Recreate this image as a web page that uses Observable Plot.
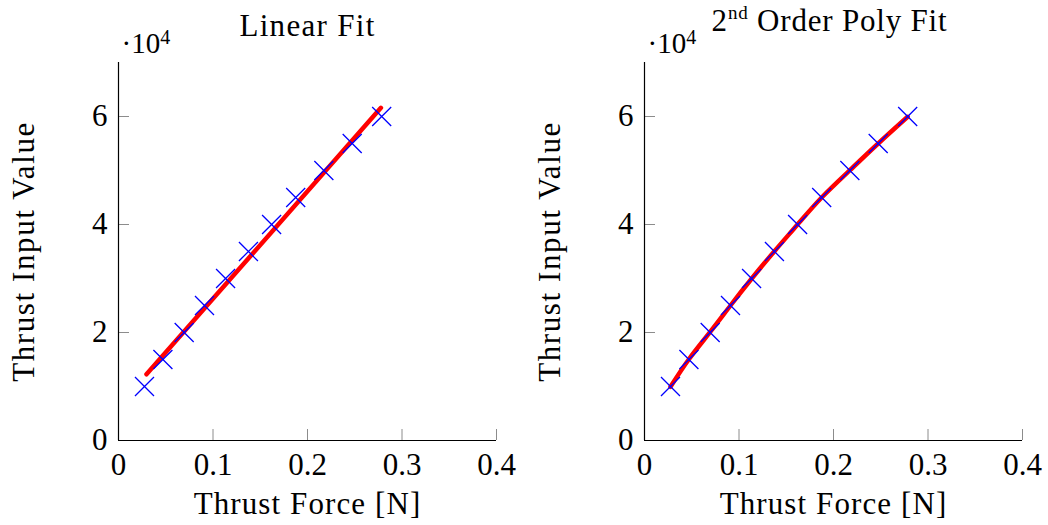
<!DOCTYPE html>
<html><head><meta charset="utf-8">
<script src="https://cdn.jsdelivr.net/npm/d3@7"></script>
<script src="https://cdn.jsdelivr.net/npm/@observablehq/plot@0.6"></script>
<style>
body{margin:0;background:#fff;}
#wrap{display:flex;width:1048px;height:525px;overflow:hidden;}
</style></head><body><div id="wrap"></div>
<script>
// Measured data (same samples in both panels)
const thrustForce = [0.0275, 0.047, 0.0695, 0.091, 0.1133, 0.1375, 0.162, 0.1875, 0.2173, 0.2473, 0.2785];
const thrustInput = [10000, 15000, 20000, 25000, 30000, 35000, 40000, 45000, 50000, 55000, 60000];
// Linear fit line
const linearFitForce = [0.0296, 0.2777];
const linearFitInput = [12270, 61600];
// 2nd order polynomial fit curve
const polyFitForce = [0.0275, 0.047, 0.0695, 0.091, 0.1133, 0.1375, 0.162, 0.1875, 0.2173, 0.2473, 0.2785];
const polyFitInput = [9950, 15050, 20100, 25000, 29950, 35050, 40000, 45000, 50050, 55000, 59950];
// Ticks
const xTicks = [0, 0.1, 0.2, 0.3, 0.4];
const xTickLabels = ["0", "0.1", "0.2", "0.3", "0.4"];
const yTicks = [0, 20000, 40000, 60000];
const yTickLabels = ["0", "2", "4", "6"];
// Texts
const panelTitles = ["Linear Fit", "2nd Order Poly Fit"];
const xLabel = "Thrust Force [N]";
const yLabel = "Thrust Input Value";
const yScaleNote = "·10^4";

const points = thrustForce.map((x, i) => ({x, y: thrustInput[i]}));

function panel(title, fitX, fitY, curve, marginLeft, marginRight, titleDx, titleDy) {
  const fit = fitX.map((x, i) => ({x, y: fitY[i]}));
  return Plot.plot({
    width: 524, height: 525,
    marginLeft, marginRight, marginTop: 62, marginBottom: 85,
    style: {fontFamily: "'Liberation Serif', serif", fontSize: "31px", background: "#fff", color: "#000", overflow: "visible"},
    x: {domain: [0, 0.4]},
    y: {domain: [0, 70000]},
    marks: [
      Plot.axisX({ticks: xTicks, tickSize: -11, fill: "none", stroke: "#8c8c8c", label: null}),
      Plot.axisY({ticks: yTicks, tickSize: -11, fill: "none", stroke: "#8c8c8c", label: null}),
      Plot.axisX({ticks: xTicks, tickSize: 0, tickPadding: 12, tickFormat: d => xTickLabels[xTicks.indexOf(d)], label: null}),
      Plot.axisY({ticks: yTicks, tickSize: 0, tickPadding: 11, tickFormat: d => yTickLabels[yTicks.indexOf(d)], label: null}),
      Plot.ruleY([0], {stroke: "#000", strokeWidth: 1.2}),
      Plot.ruleX([0], {stroke: "#000", strokeWidth: 1.2}),
      Plot.line(fit, {x: "x", y: "y", stroke: "#ff0000", strokeWidth: 4.5, curve}),
      Plot.dot(points, {x: "x", y: "y", symbol: "times", r: 8.7, stroke: "#0000ff", strokeWidth: 1.3}),
      Plot.text([title], {frameAnchor: "top", dx: titleDx, dy: titleDy, lineAnchor: "bottom"}),
      Plot.text([yScaleNote], {frameAnchor: "top-left", dx: 3, dy: -9.5, textAnchor: "start", lineAnchor: "bottom", fontSize: 29}),
      Plot.text([xLabel], {frameAnchor: "bottom", dy: 73, lineAnchor: "bottom"}),
      Plot.text([yLabel], {frameAnchor: "left", dx: -85, rotate: -90, textAnchor: "middle", lineAnchor: "bottom"})
    ]
  });
}

function fixTexts(svg) {
  d3.select(svg).selectAll("text").each(function() {
    const t = this.textContent;
    const el = d3.select(this);
    if (t === yScaleNote) {
      el.text(null);
      el.append("tspan").text("·10");
      el.append("tspan").attr("dy", -9).attr("font-size", 20).text("4");
    } else if (t === panelTitles[1]) {
      el.text(null);
      el.style("letter-spacing", "0.8px");
      el.append("tspan").text("2");
      el.append("tspan").attr("dy", -12).attr("font-size", 19).text("nd");
      el.append("tspan").attr("dy", 12).text(" Order Poly Fit");
    } else if (t === panelTitles[0]) {
      el.style("letter-spacing", "1.3px");
    } else if (t === xLabel) {
      el.style("letter-spacing", "1.1px");
    } else if (t === yLabel) {
      el.style("letter-spacing", "1.6px");
    }
  });
  return svg;
}

const wrap = document.getElementById("wrap");
wrap.appendChild(fixTexts(panel(panelTitles[0], linearFitForce, linearFitInput, "linear", 118, 28, 0, -26.5)));
wrap.appendChild(fixTexts(panel(panelTitles[1], polyFitForce, polyFitInput, "natural", 120, 26, -4, -31.5)));
</script>
</body></html>
